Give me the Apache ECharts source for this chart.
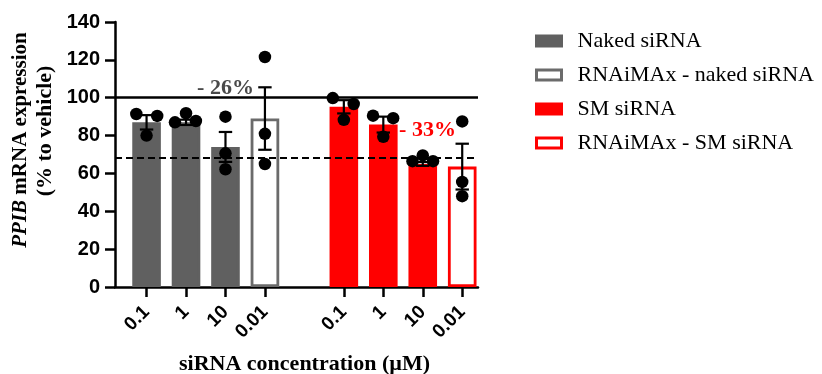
<!DOCTYPE html>
<html>
<head>
<meta charset="utf-8">
<script src="https://cdn.jsdelivr.net/npm/echarts@6/dist/echarts.min.js"></script>
<style>
  html, body { margin: 0; padding: 0; background: #fff; }
  #chart { width: 822px; height: 374px; }
</style>
</head>
<body>
<div id="chart"></div>
<script>
// Treatment groups (legend order)
const groupNames = ['Naked siRNA', 'RNAiMAx - naked siRNA', 'SM siRNA', 'RNAiMAx - SM siRNA'];

// One entry per bar, left to right
const barPositions = [1, 2, 3, 4, 6, 7, 8, 9];
const concentrationLabels = ['0.1', '1', '10', '0.01', '0.1', '1', '10', '0.01'];
const barGroup = [0, 0, 0, 1, 2, 2, 2, 3];
const meanExpression = [87, 87, 74, 89, 95.2, 85.8, 65, 63.6];
const semExpression = [3.8, 1.4, 7.9, 16.5, 3.5, 4.2, 1.0, 12.1];
const replicateExpression = [
  [91.4, 90.4, 80.0],
  [87.0, 91.8, 87.7],
  [90.0, 70.6, 62.2],
  [121.5, 80.9, 65.0],
  [99.8, 96.7, 88.3],
  [90.5, 89.2, 79.4],
  [66.5, 69.5, 66.5],
  [87.5, 55.5, 48.0]
];

// Reference levels: vehicle and the reduced level marked by the dashed line
const vehicleLevel = 100;
const reducedLevel = 68.5;

// Y axis ticks
const yMin = 0, yMax = 140, yStep = 20;

// Reduction annotations
const reductionLabels = ['- 26%', '- 33%'];

// ---- presentation ----
const SERIF = '"Liberation Serif", "Times New Roman", serif';
const SANS = '"Liberation Sans", Arial, sans-serif';
const groupStyles = [
  { color: '#606060', borderColor: '#606060' },
  { color: '#ffffff', borderColor: '#6b6b6b' },
  { color: '#ff0000', borderColor: '#ff0000' },
  { color: '#ffffff', borderColor: '#ff0000' }
];
// horizontal spread of replicate dots within a bar (x-axis units)
const dotSpread = [
  [-0.26, 0.27, 0], [-0.28, 0, 0.25], [0, 0, 0], [0, 0, 0],
  [-0.28, 0.25, 0], [-0.26, 0.25, 0], [-0.26, 0, 0.26], [0, 0, 0]
];

const chart = echarts.init(document.getElementById('chart'), null, { renderer: 'canvas' });

const barSeries = groupNames.map((name, g) => ({
  name: name,
  type: 'bar',
  barWidth: 28.6,
  barGap: '-100%',
  itemStyle: Object.assign({ borderWidth: 2.8 }, groupStyles[g]),
  data: barPositions
    .map((x, i) => (barGroup[i] === g ? [x, meanExpression[i]] : null))
    .filter(d => d !== null),
  z: 2
}));

const errorSeries = {
  type: 'custom',
  name: 'sem',
  data: barPositions.map((x, i) => [x, meanExpression[i], semExpression[i]]),
  encode: { x: 0, y: 1 },
  renderItem: function (params, api) {
    const x = api.value(0), m = api.value(1), s = api.value(2);
    const top = api.coord([x, m + s]);
    const bot = api.coord([x, m - s]);
    const hw = 6.7;
    const st = { stroke: '#000', lineWidth: 2.2 };
    return {
      type: 'group',
      children: [
        { type: 'line', shape: { x1: top[0], y1: top[1], x2: bot[0], y2: bot[1] }, style: st },
        { type: 'line', shape: { x1: top[0] - hw, y1: top[1], x2: top[0] + hw, y2: top[1] }, style: st },
        { type: 'line', shape: { x1: bot[0] - hw, y1: bot[1], x2: bot[0] + hw, y2: bot[1] }, style: st }
      ]
    };
  },
  z: 4,
  markLine: {
    silent: true,
    symbol: 'none',
    label: { show: false },
    data: [
      { yAxis: vehicleLevel, lineStyle: { color: '#000', type: 'solid', width: 2.5 } },
      { yAxis: reducedLevel, lineStyle: { color: '#000', type: [7, 4], width: 2 } }
    ]
  }
};

const dotData = [];
replicateExpression.forEach((vals, i) => {
  vals.forEach((v, k) => dotData.push([barPositions[i] + dotSpread[i][k], v]));
});
const dotSeries = {
  type: 'scatter',
  name: 'replicates',
  data: dotData,
  symbol: 'circle',
  symbolSize: 12.5,
  itemStyle: { color: '#000', opacity: 1 },
  z: 5
};

chart.setOption({
  animation: false,
  backgroundColor: '#fff',
  grid: { left: 115, top: 22, right: 344, bottom: 87, containLabel: false },
  legend: {
    orient: 'vertical',
    left: 530,
    top: 25,
    itemWidth: 25,
    itemHeight: 10,
    itemGap: 12,
    selectedMode: false,
    data: groupNames.map((n, g) => ({
      name: n,
      icon: 'rect',
      itemStyle: Object.assign({ borderWidth: 3 }, groupStyles[g])
    })),
    textStyle: { fontFamily: SERIF, fontSize: 22, color: '#000', padding: [0, 0, 0, 11], lineHeight: 22 }
  },
  xAxis: {
    type: 'value',
    min: 0.2,
    max: 9.4,
    splitLine: { show: false },
    axisLine: { show: true, onZero: false, lineStyle: { color: '#000', width: 2.5 } },
    axisTick: { show: true, customValues: barPositions, length: 10, lineStyle: { color: '#000', width: 2.5 } },
    axisLabel: {
      customValues: barPositions,
      rotate: 45,
      margin: 22,
      fontFamily: SANS,
      fontWeight: 'bold',
      fontSize: 19,
      color: '#000',
      formatter: v => concentrationLabels[barPositions.indexOf(v)]
    }
  },
  yAxis: {
    type: 'value',
    min: yMin,
    max: yMax,
    interval: yStep,
    splitLine: { show: false },
    axisLine: { show: true, lineStyle: { color: '#000', width: 2.5 } },
    axisTick: { show: true, length: 10, lineStyle: { color: '#000', width: 2.5 } },
    axisLabel: { fontFamily: SANS, fontWeight: 'bold', fontSize: 20, color: '#000', margin: 15 }
  },
  series: barSeries.concat([errorSeries, dotSeries])
});

// Annotations and axis titles, placed through the chart's coordinate system
const p26 = chart.convertToPixel({ gridIndex: 0 }, [3.0, 105]);
const p33 = chart.convertToPixel({ gridIndex: 0 }, [8.12, 83]);
chart.setOption({
  graphic: [
    {
      type: 'text', x: p26[0], y: p26[1], z: 10,
      style: { text: reductionLabels[0], fill: '#4a4a4a', fontFamily: SERIF, fontWeight: 'bold', fontSize: 22, align: 'center', verticalAlign: 'middle' }
    },
    {
      type: 'text', x: p33[0], y: p33[1], z: 10,
      style: { text: reductionLabels[1], fill: '#ff0000', fontFamily: SERIF, fontWeight: 'bold', fontSize: 22, align: 'center', verticalAlign: 'middle' }
    },
    {
      type: 'text', x: 304.5, y: 364, z: 10,
      style: { text: 'siRNA concentration (µM)', fill: '#000', fontFamily: SERIF, fontWeight: 'bold', fontSize: 22, align: 'center', verticalAlign: 'middle' }
    },
    {
      type: 'text', x: 21, y: 140, rotation: Math.PI / 2, z: 10,
      style: {
        text: '{i|PPIB} mRNA expression',
        fill: '#000', fontFamily: SERIF, fontWeight: 'bold', fontSize: 21,
        align: 'center', verticalAlign: 'middle',
        rich: { i: { fontStyle: 'italic', fontWeight: 'bold', fontFamily: SERIF, fontSize: 21, fill: '#000' } }
      }
    },
    {
      type: 'text', x: 45, y: 131, rotation: Math.PI / 2, z: 10,
      style: { text: '(% to vehicle)', fill: '#000', fontFamily: SERIF, fontWeight: 'bold', fontSize: 22, align: 'center', verticalAlign: 'middle' }
    }
  ]
});
</script>
</body>
</html>
